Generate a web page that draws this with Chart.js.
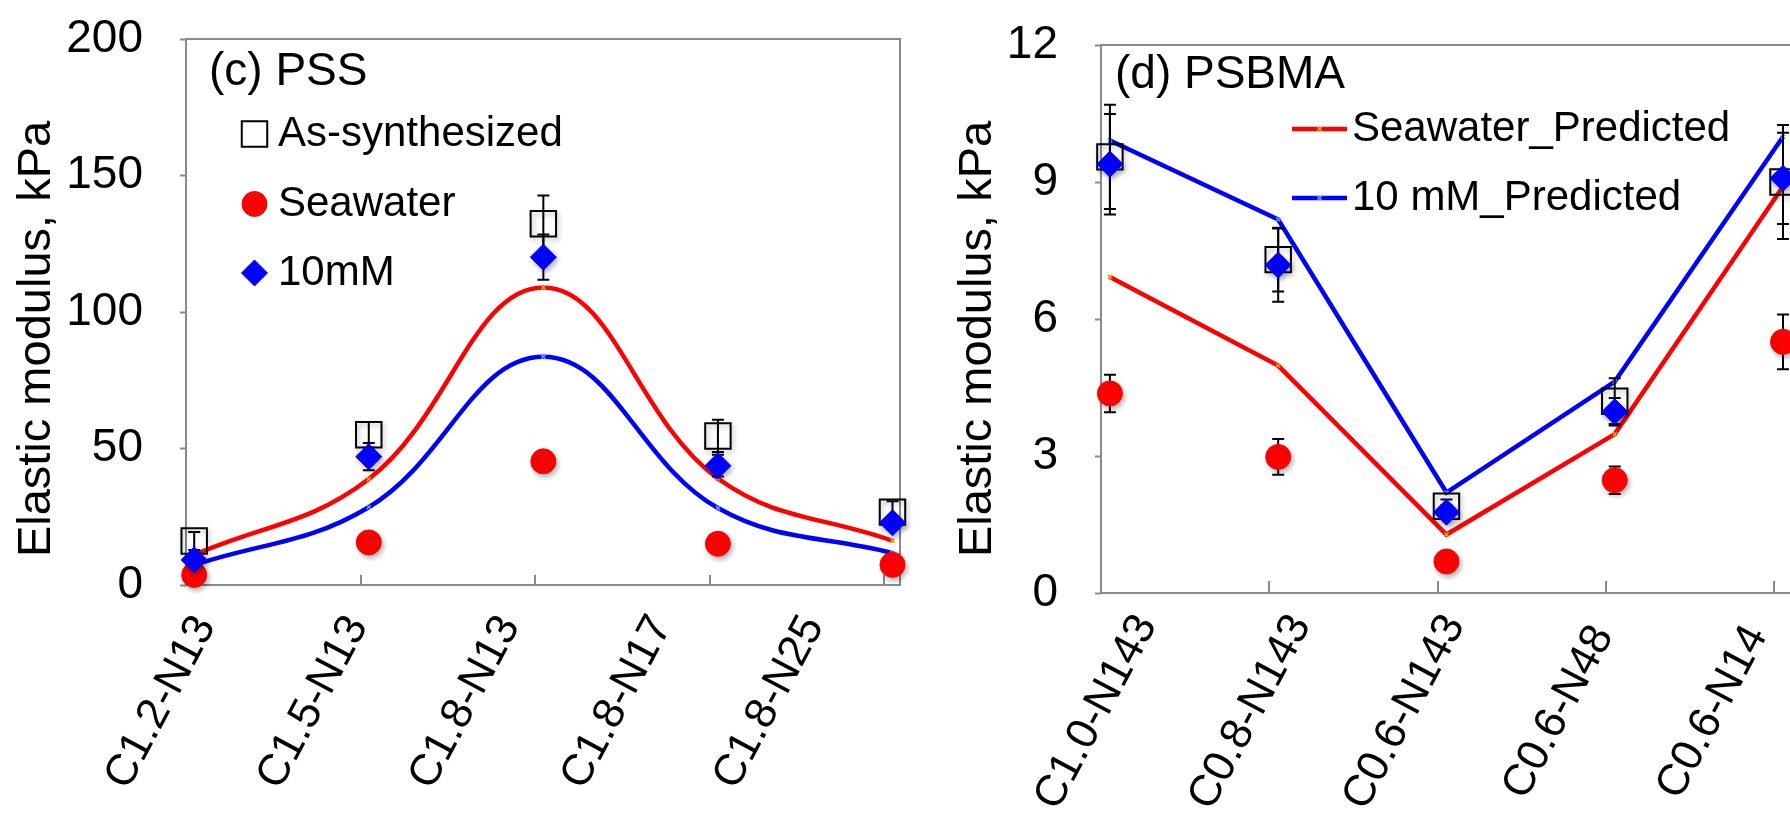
<!DOCTYPE html>
<html><head><meta charset="utf-8">
<script src="https://cdn.jsdelivr.net/npm/chart.js@4.4.0/dist/chart.umd.min.js"></script>
<style>
html,body{margin:0;padding:0;background:#fff;overflow:hidden;width:1790px;height:822px;position:relative;}
#c1{position:absolute;left:0;top:0;}
#c2{position:absolute;left:920px;top:0;}
</style></head><body>
<canvas id="c1" width="920" height="822"></canvas>
<canvas id="c2" width="900" height="822"></canvas>
<script>
// ---------------- data ----------------
const yAxisTitle = 'Elastic modulus, kPa';

const pssCategories = ['C1.2-N13','C1.5-N13','C1.8-N13','C1.8-N17','C1.8-N25'];
const pssAsSynth      = [16.1, 55.0, 132.3, 54.6, 26.7];
const pssAsSynthErr   = [3.3, 4.7, 10.4, 5.9, 4.0];
const pssSeawater     = [3.7, 15.6, 45.3, 15.1, 7.4];
const pss10mM         = [9.2, 47.0, 120.1, 43.7, 22.8];
const pss10mMErr      = [1.5, 5.0, 8.3, 4.0, 2.5];
const pssSeawaterPred = [11.0, 38.8, 109.0, 39.0, 16.2];
const pss10mMPred     = [7.3, 28.5, 83.6, 28.2, 11.7];
const pssYTicks       = [0, 50, 100, 150, 200];

const psbmaCategories = ['C1.0-N143','C0.8-N143','C0.6-N143','C0.6-N48','C0.6-N14'];
const psbmaAsSynth      = [9.55, 7.3, 1.9, 4.2, 9.0];
const psbmaAsSynthErr   = [1.14, 0.7, 0.15, 0.5, 1.25];
const psbmaSeawater     = [4.37, 2.98, 0.69, 2.47, 5.5];
const psbmaSeawaterErr  = [0.41, 0.39, 0.05, 0.3, 0.6];
const psbma10mM         = [9.39, 7.18, 1.77, 3.97, 9.08];
const psbma10mMErr      = [1.1, 0.8, 0.15, 0.3, 1.0];
const psbmaSeawaterPred = [6.92, 4.98, 1.28, 3.48, 8.9];
const psbma10mMPred     = [9.91, 8.18, 2.2, 4.63, 9.99];
const psbmaYTicks       = [0, 3, 6, 9, 12];

// ---------------- helpers ----------------
const FONT = '"Liberation Sans", Arial, Helvetica, sans-serif';
const GREY = '#8a8a8a';
const pts = arr => arr.map((v, i) => ({x: i, y: v}));

const errPlugin = {
  id: 'errbars',
  beforeDatasetDraw(chart, args) {
    const ds = chart.data.datasets[args.index];
    const ctx = chart.ctx;
    if (ds.errors) {
      const ys = chart.scales.y;
      ctx.save();
      ctx.strokeStyle = '#000'; ctx.lineWidth = 2;
      args.meta.data.forEach((pt, i) => {
        const e = ds.errors[i]; if (!e) return;
        const v = ds.data[i].y;
        const y1 = ys.getPixelForValue(v + e), y2 = ys.getPixelForValue(v - e);
        const x = pt.x;
        ctx.beginPath();
        ctx.moveTo(x, y1); ctx.lineTo(x, y2);
        ctx.moveTo(x - 6, y1); ctx.lineTo(x + 6, y1);
        ctx.moveTo(x - 6, y2); ctx.lineTo(x + 6, y2);
        ctx.stroke();
      });
      ctx.restore();
    }
    ctx.save();
    if (ds.shadow) {
      ctx.shadowColor = 'rgba(0,0,0,0.28)'; ctx.shadowBlur = 5;
      ctx.shadowOffsetX = 2; ctx.shadowOffsetY = 3;
    }
  },
  afterDatasetDraw(chart) { chart.ctx.restore(); }
};

const decorPlugin = {
  id: 'decor',
  beforeDatasetsDraw(chart, args, o) {
    const {ctx, chartArea: a} = chart;
    ctx.save();
    ctx.strokeStyle = GREY; ctx.lineWidth = 2;
    ctx.strokeRect(a.left, a.top, a.right - a.left, a.bottom - a.top);
    const xs = chart.scales.x;
    for (let i = 1; i < o.nCats; i++) {
      const px = Math.round(xs.getPixelForValue(xs.min + i));
      if (px > a.right) break;
      ctx.beginPath(); ctx.moveTo(px, a.bottom); ctx.lineTo(px, a.bottom - o.tickLen); ctx.stroke();
    }
    ctx.restore();
  },
  afterDraw(chart, args, o) {
    const ctx = chart.ctx;
    ctx.save();
    // y axis title
    ctx.save();
    ctx.translate(o.yTitleX, o.yTitleY); ctx.rotate(-Math.PI / 2);
    ctx.fillStyle = '#000'; ctx.textAlign = 'center'; ctx.textBaseline = 'middle';
    ctx.font = '47px ' + FONT;
    ctx.fillText(yAxisTitle, 0, 0);
    ctx.restore();
    // panel title
    ctx.fillStyle = '#000'; ctx.textBaseline = 'middle'; ctx.textAlign = 'left';
    ctx.font = o.titleSize + 'px ' + FONT;
    ctx.fillText(o.title, o.titleX, o.titleY);
    // legend
    ctx.font = o.legendSize + 'px ' + FONT;
    o.legendItems.forEach((dsIndex, k) => {
      const ds = chart.data.datasets[dsIndex];
      const y = o.legendY[k];
      if (o.legendType === 'point') {
        ctx.fillStyle = ds.pointBackgroundColor; ctx.strokeStyle = ds.pointBorderColor;
        ctx.lineWidth = ds.pointBorderWidth;
        Chart.helpers.drawPoint(ctx, {pointStyle: ds.pointStyle, radius: ds.pointRadius,
          borderWidth: ds.pointBorderWidth, rotation: 0}, o.legendSymX, y);
      } else {
        ctx.strokeStyle = ds.borderColor; ctx.lineWidth = ds.borderWidth;
        ctx.beginPath(); ctx.moveTo(o.legendLineX[0], y); ctx.lineTo(o.legendLineX[1], y); ctx.stroke();
        ctx.strokeStyle = ds.pointBorderColor; ctx.lineWidth = ds.pointBorderWidth;
        Chart.helpers.drawPoint(ctx, {pointStyle: ds.pointStyle, radius: ds.pointRadius,
          borderWidth: ds.pointBorderWidth, rotation: 0}, (o.legendLineX[0] + o.legendLineX[1]) / 2, y);
      }
      ctx.fillStyle = '#000';
      ctx.fillText(ds.label, o.legendTextX, y);
    });
    ctx.restore();
  }
};

function markerSets(asSynth, asErr, sea, seaErr, mm, mmErr) {
  return [
    {label: '10mM', data: pts(mm), errors: mmErr, showLine: false, pointStyle: 'rectRot',
     pointRadius: 13, pointBackgroundColor: '#0000ff', pointBorderColor: '#0000ff', pointBorderWidth: 1, shadow: true},
    {label: 'Seawater', data: pts(sea), errors: seaErr, showLine: false, pointStyle: 'circle',
     pointRadius: 12.5, pointBackgroundColor: '#ff0000', pointBorderColor: '#ff0000', pointBorderWidth: 1, shadow: true},
    {label: 'As-synthesized', data: pts(asSynth), errors: asErr, showLine: false, pointStyle: 'rect',
     pointRadius: 18, pointBackgroundColor: 'rgba(0,0,0,0)', pointBorderColor: '#000', pointBorderWidth: 2, shadow: true}
  ];
}
function lineSets(seaPred, mmPred, tension) {
  return [
    {label: 'Seawater_Predicted', data: pts(seaPred), borderColor: '#ff0000', borderWidth: 4.5, tension: tension,
     pointStyle: 'crossRot', pointRadius: 3, pointBorderColor: '#ff9a1a', pointBackgroundColor: '#ff9a1a', pointBorderWidth: 1.5},
    {label: '10 mM_Predicted', data: pts(mmPred), borderColor: '#0000ff', borderWidth: 4.5, tension: tension,
     pointStyle: 'crossRot', pointRadius: 3, pointBorderColor: '#5a9cff', pointBackgroundColor: '#5a9cff', pointBorderWidth: 1.5}
  ];
}

function makeChart(canvas, P) {
  const datasets = P.datasets.map(d => Object.assign({clip: false, fill: false}, d));
  const maxLen = Math.max(...P.cats.map(c => c.length));
  return new Chart(canvas, {
    type: 'line',
    data: {datasets},
    plugins: [errPlugin, decorPlugin],
    options: {
      responsive: false, animation: false, devicePixelRatio: 1, events: [],
      layout: {padding: {top: P.top, right: P.right, left: 0, bottom: 0}},
      plugins: {legend: {display: false}, tooltip: {enabled: false}, decor: P.decor},
      scales: {
        x: {
          type: 'linear', min: P.xMin, max: P.xMax,
          afterBuildTicks: s => { s.ticks = P.cats.map((c, i) => ({value: P.lblStart + i * P.lblStep})); },
          afterFit: s => { s.height = P.xHeight; s.paddingLeft = 0; s.paddingRight = 0; },
          grid: {display: false, drawTicks: false},
          border: {display: false},
          ticks: {autoSkip: false, minRotation: P.rot, maxRotation: P.rot, padding: P.lblPad,
                  color: '#000', font: {family: FONT, size: P.lblSize},
                  // trailing spaces keep shorter labels centred like the original layout
                  callback: (v, i) => P.cats[i] + ' '.repeat(maxLen - P.cats[i].length)}
        },
        y: {
          type: 'linear', min: P.yTicks[0], max: P.yTicks[P.yTicks.length - 1],
          afterBuildTicks: s => { s.ticks = P.yTicks.map(v => ({value: v})); },
          afterFit: s => { s.width = P.yWidth; s.paddingTop = 0; s.paddingBottom = 0; },
          grid: {drawOnChartArea: false, drawTicks: true, tickLength: 6, color: GREY, tickWidth: 2},
          border: {display: false},
          ticks: {padding: 37, color: '#000', font: {family: FONT, size: 46}},
          title: {display: false}
        }
      }
    }
  });
}

makeChart(document.getElementById('c1'), {
  cats: pssCategories, yTicks: pssYTicks,
  datasets: markerSets(pssAsSynth, pssAsSynthErr, pssSeawater, null, pss10mM, pss10mMErr)
            .concat(lineSets(pssSeawaterPred, pss10mMPred, 0.4)),
  top: 39, right: 7, xHeight: 237, yWidth: 186,
  xMin: -0.047, xMax: 4.043, lblStart: 0.064, lblStep: 0.871, lblPad: 22, rot: 62, lblSize: 44,
  decor: {nCats: 5, tickLen: 10, yTitleX: 37, yTitleY: 339,
          title: '(c) PSS', titleX: 209, titleY: 72, titleSize: 46,
          legendType: 'point', legendItems: [2, 1, 0], legendY: [134, 204, 273], legendSymX: 254.5,
          legendTextX: 278, legendSize: 42}
});

makeChart(document.getElementById('c2'), {
  cats: psbmaCategories, yTicks: psbmaYTicks,
  datasets: markerSets(psbmaAsSynth, psbmaAsSynthErr, psbmaSeawater, psbmaSeawaterErr, psbma10mM, psbma10mMErr)
            .concat(lineSets(psbmaSeawaterPred, psbma10mMPred, 0)),
  top: 45, right: 18, xHeight: 229, yWidth: 181,
  xMin: -0.053, xMax: 4.101, lblStart: 0.217, lblStep: 0.9156, lblPad: 13, rot: 62, lblSize: 44,
  decor: {nCats: 5, tickLen: 12, yTitleX: 58, yTitleY: 339,
          title: '(d) PSBMA', titleX: 195, titleY: 75, titleSize: 46,
          legendType: 'line', legendItems: [3, 4], legendY: [129, 198], legendLineX: [372, 427],
          legendTextX: 432, legendSize: 42}
});
</script>
</body></html>
